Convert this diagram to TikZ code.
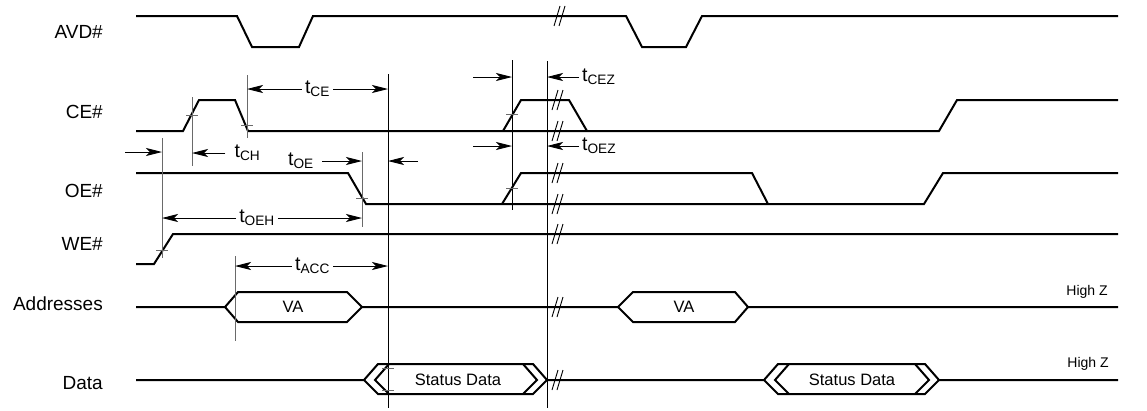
\documentclass[tikz,border=0pt]{standalone}
\usepackage{fontspec}
\setmainfont{Liberation Sans}
\usepackage{tikz}
\usetikzlibrary{arrows.meta}
\definecolor{refRenk}{HTML}{6A6A6A}
\newcommand{\kesik}[2]{\draw[line width=0.9pt] ({#1-6},{#2+10}) -- ({#1},{#2-10}) ({#1-1},{#2+10}) -- ({#1+5},{#2-10});}
\begin{document}
\begin{tikzpicture}[x=1pt,y=-1pt,
  sinyal/.style={line width=2pt,line join=miter},
  refSiyah/.style={line width=0.9pt},
  refGri/.style={line width=0.9pt,refRenk},
  olcu/.style={line width=0.9pt,-{Stealth[length=16pt,width=8pt,inset=4pt]}},
  etiket/.style={font=\fontsize{19}{21}\selectfont,anchor=east,inner sep=0pt},
  zaman/.style={font=\fontsize{19.5}{21}\selectfont,inner xsep=3pt,inner ysep=1pt,fill=white},
  veri/.style={font=\fontsize{16.5}{18}\selectfont,inner sep=0pt},
  yuksekZ/.style={font=\fontsize{14}{16}\selectfont,inner sep=0pt}]
\useasboundingbox (0,0) rectangle (1147,410);
\node[etiket] (avdE) at (103,31.7) {AVD\#};
\node[etiket] (ceE) at (103,111.7) {CE\#};
\node[etiket] (oeE) at (103,191) {OE\#};
\node[etiket] (weE) at (103,243.5) {WE\#};
\node[etiket] (adrE) at (103,303.5) {Addresses};
\node[etiket] (veriE) at (103,383.5) {Data};
\draw[sinyal] (136,16) -- (237,16) -- (252,47) -- (299,47) -- (313,16) -- (626,16) -- (642,47) -- (686,47) -- (702,16) -- (1118,16);
\draw[sinyal] (136,131) -- (183,131) -- (199,100) -- (235,100) -- (248,131) -- (939,131) -- (957,100) -- (1118,100);
\draw[sinyal] (503,131) -- (521,100) -- (569,100) -- (587,131);
\draw[sinyal] (136,173) -- (348,173) -- (366,204) -- (924,204) -- (943,173) -- (1118,173);
\draw[sinyal] (502,204) -- (521,173) -- (752,173) -- (768,204);
\draw[sinyal] (136,264) -- (154,264) -- (173,234) -- (1118,234);
\draw[sinyal] (136,307) -- (225,307) -- (238,292) -- (347,292) -- (362,307) -- (618,307) -- (633,292) -- (735,292) -- (748,307) -- (1118,307);
\draw[sinyal] (225,307) -- (238,322) -- (347,322) -- (362,307) (618,307) -- (633,322) -- (735,322) -- (748,307);
\draw[sinyal] (136,380) -- (364,380) (378,364) -- (364,380) -- (378,394) -- (533,394) -- (547,380) -- (533,364) -- cycle;
\draw[sinyal] (389,364) -- (375,380) -- (389,394) (523,364) -- (537,380) -- (523,394);
\draw[sinyal] (547,380) -- (764,380) (778,364) -- (764,380) -- (778,394) -- (925,394) -- (939,380) -- (925,364) -- cycle;
\draw[sinyal] (789,364) -- (775,380) -- (789,394) (915,364) -- (929,380) -- (915,394) (939,380) -- (1118,380);
\node[veri] (va1) at (293,307) {VA};
\node[veri] (va2) at (684,307) {VA};
\node[veri] (durum1) at (458,380) {Status Data};
\node[veri] (durum2) at (852,380) {Status Data};
\node[yuksekZ] (hz1) at (1087,292) {High Z};
\node[yuksekZ] (hz2) at (1088,364) {High Z};
\kesik{560}{16}
\foreach \y in {100,131,173,204,234,307,380} \kesik{558}{\y}
\coordinate (vWE) at (162,138);
\coordinate (vCEr) at (192,97);
\coordinate (vCEf) at (247,75);
\coordinate (vAdr) at (235,256);
\coordinate (vOEf) at (362,152);
\coordinate (vVeri) at (388,74);
\coordinate (vCE2) at (512,60);
\coordinate (vKes) at (547,61);
\draw[refGri] (vWE) -- ++(0,120);
\draw[refGri] (vCEr) -- ++(0,69);
\draw[refGri] (vCEf) -- ++(0,63);
\draw[refGri] (vAdr) -- ++(0,85);
\draw[refGri] (vOEf) -- ++(0,75);
\draw[refSiyah] (vVeri) -- ++(0,334);
\draw[refSiyah] (vCE2) -- ++(0,150);
\draw[refSiyah] (vKes) -- ++(0,347);
\foreach \x/\y in {192/115,247/125,362/198,162/250,512/114,512/188,388/368,388/390}
  \draw[refGri] ({\x-6},\y) -- ({\x+6},\y);
\node[zaman] (tCE) at (317.5,89) {t\textsubscript{CE}};
\draw[olcu] (tCE.west) -- (vCEf |- tCE.west);
\draw[olcu] (tCE.east) -- (vVeri |- tCE.east);
\node[zaman] (tCH) at (247.5,153) {t\textsubscript{CH}};
\draw[olcu] ([xshift=-6pt]tCH.west) -- (vCEr |- tCH.west);
\coordinate (weUc) at (125,152);
\draw[olcu] (weUc) -- (vWE |- weUc);
\node[zaman] (tOE) at (301,161) {t\textsubscript{OE}};
\draw[olcu] ([xshift=5pt]tOE.east) -- (vOEf |- tOE.east);
\coordinate (veriUc) at (418,161);
\draw[olcu] (veriUc) -- (vVeri |- veriUc);
\node[zaman] (tOEH) at (257,218) {t\textsubscript{OEH}};
\draw[olcu] (tOEH.west) -- (vWE |- tOEH.west);
\draw[olcu] (tOEH.east) -- (vOEf |- tOEH.east);
\node[zaman] (tACC) at (312.5,266) {t\textsubscript{ACC}};
\draw[olcu] (tACC.west) -- (vAdr |- tACC.west);
\draw[olcu] (tACC.east) -- (vVeri |- tACC.east);
\node[zaman,anchor=west] (tCEZ) at (579,77) {t\textsubscript{CEZ}};
\coordinate (ceUc) at (473,77);
\draw[olcu] (ceUc) -- (vCE2 |- ceUc);
\draw[olcu] (tCEZ.west) -- (vKes |- tCEZ.west);
\node[zaman,anchor=west] (tOEZ) at (579,146) {t\textsubscript{OEZ}};
\coordinate (oeUc) at (473,146);
\draw[olcu] (oeUc) -- (vCE2 |- oeUc);
\draw[olcu] (tOEZ.west) -- (vKes |- tOEZ.west);
\end{tikzpicture}
\end{document}
